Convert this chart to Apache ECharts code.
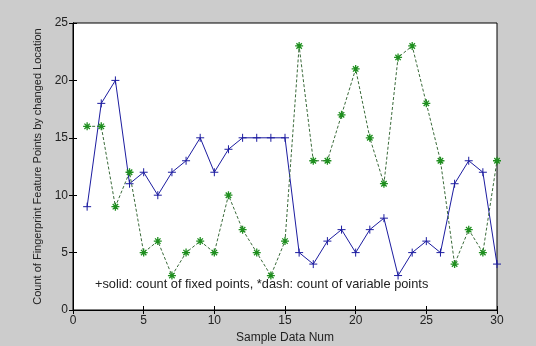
<!DOCTYPE html>
<html>
<head>
<meta charset="utf-8">
<script src="https://cdn.jsdelivr.net/npm/echarts@6/dist/echarts.min.js"></script>
<style>
  html, body { margin: 0; padding: 0; background: #cccccc; }
  #chart { width: 536px; height: 346px; }
</style>
</head>
<body>
<div id="chart"></div>
<script>
const sampleNums = [1, 2, 3, 4, 5, 6, 7, 8, 9, 10, 11, 12, 13, 14, 15,
  16, 17, 18, 19, 20, 21, 22, 23, 24, 25, 26, 27, 28, 29, 30]
// solid line, '+' markers
const fixedPoints = [9, 18, 20, 11, 12, 10, 12, 13, 15, 12, 14, 15, 15, 15, 15,
  5, 4, 6, 7, 5, 7, 8, 3, 5, 6, 5, 11, 13, 12, 4]
// dashed line, '*' markers
const variablePoints = [16, 16, 9, 12, 5, 6, 3, 5, 6, 5, 10, 7, 5, 3, 6,
  23, 13, 13, 17, 21, 15, 11, 22, 23, 18, 13, 4, 7, 5, 13]
const xTicks = [0, 5, 10, 15, 20, 25, 30]
const yTicks = [0, 5, 10, 15, 20, 25]

const font = 'Liberation Sans, Arial, sans-serif'
const blue = '#1c1ca0'
const green = '#1f8f1f'
const plusPath = 'path://M5,0L5,10M0,5L10,5'
const starPath = 'path://M5,0L5,10M0,5L10,5M1.6,1.6L8.4,8.4M8.4,1.6L1.6,8.4'

const pairs = (ys) => sampleNums.map((x, i) => [x, ys[i]])

const axisBase = (ticks) => ({
  type: 'value',
  min: ticks[0],
  max: ticks[ticks.length - 1],
  interval: ticks[1] - ticks[0],
  splitLine: { show: false },
  axisLine: { show: true, lineStyle: { color: '#000', width: 1 } },
  axisTick: { show: true, inside: true, length: 4, lineStyle: { color: '#000' } }
})

const chart = echarts.init(document.getElementById('chart'))
chart.setOption({
  backgroundColor: '#cccccc',
  animation: false,
  grid: {
    left: 73, right: 39, top: 23, bottom: 36,
    outerBoundsMode: 'none',
    containLabel: false,
    show: true, backgroundColor: '#ffffff', borderColor: '#000', borderWidth: 1
  },
  xAxis: [
    {
      ...axisBase(xTicks),
      position: 'bottom',
      name: 'Sample Data Num',
      nameLocation: 'middle',
      nameGap: 18,
      nameTextStyle: { fontFamily: font, fontSize: 12, color: '#222' },
      axisLabel: { fontFamily: font, fontSize: 12, color: '#222', margin: 5 }
    },
    { ...axisBase(xTicks), position: 'top', axisLabel: { show: false } }
  ],
  yAxis: [
    {
      ...axisBase(yTicks),
      position: 'left',
      name: 'Count of Fingerprint Feature Points by changed Location',
      nameLocation: 'middle',
      nameGap: 20,
      nameTextStyle: { fontFamily: font, fontSize: 11, color: '#222' },
      axisLabel: { fontFamily: font, fontSize: 12, color: '#222', margin: 5 }
    },
    { ...axisBase(yTicks), position: 'right', axisLabel: { show: false } }
  ],
  graphic: [{
    type: 'text',
    left: 95,
    top: 278,
    style: {
      text: '+solid: count of fixed points, *dash: count of variable points',
      fontFamily: font,
      fontSize: 12.8,
      fill: '#222'
    }
  }],
  series: [
    {
      name: 'fixed',
      type: 'line',
      data: pairs(fixedPoints),
      symbol: plusPath,
      symbolSize: 8,
      lineStyle: { color: blue, width: 1, type: 'solid' },
      itemStyle: { color: 'transparent', borderColor: blue, borderWidth: 1 }
    },
    {
      name: 'variable',
      type: 'line',
      data: pairs(variablePoints),
      symbol: starPath,
      symbolSize: 8,
      lineStyle: { color: '#3a6a3a', width: 1, type: [3, 2] },
      itemStyle: { color: 'transparent', borderColor: green, borderWidth: 1.3 }
    }
  ]
})
</script>
</body>
</html>
